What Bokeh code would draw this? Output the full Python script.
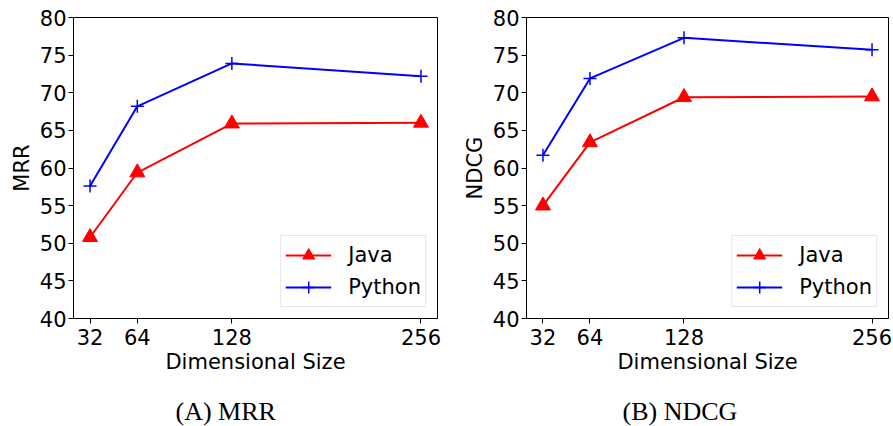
from bokeh.plotting import figure
from bokeh.layouts import row, column
from bokeh.models import (FixedTicker, Range1d, Legend, LegendItem, Label)
from bokeh.embed import file_html
from bokeh.resources import INLINE

dims = [32, 64, 128, 256]
mrr_java = [50.8, 59.4, 65.9, 66.0]
mrr_python = [57.6, 68.2, 73.9, 72.2]
ndcg_java = [55.0, 63.4, 69.4, 69.5]
ndcg_python = [61.7, 71.9, 77.3, 75.7]
y_ticks = [40, 45, 50, 55, 60, 65, 70, 75, 80]
series_names = ["Java", "Python"]
y_labels = ["MRR", "NDCG"]
captions = ["(A) MRR", "(B) NDCG"]

SANS = "DejaVu Sans"
SERIF = "Liberation Serif"


def make_panel(java, python, ylabel, width, bl, br):
    p = figure(width=width, height=394, output_backend="svg", toolbar_location=None,
               x_range=Range1d(20.8, 267.2), y_range=Range1d(40, 80),
               min_border_left=bl, min_border_right=br, min_border_top=17,
               min_border_bottom=76)
    p.background_fill_color = "white"
    p.border_fill_color = "white"
    p.outline_line_color = "black"
    p.outline_line_width = 1
    p.xgrid.visible = False
    p.ygrid.visible = False

    for ax in (p.xaxis[0], p.yaxis[0]):
        ax.major_tick_in = 0
        ax.major_tick_out = 5
        ax.minor_tick_in = 0
        ax.minor_tick_out = 0
        ax.axis_line_color = "black"
        ax.major_tick_line_color = "black"
        ax.major_label_text_font = SANS
        ax.major_label_text_font_size = "21px"
        ax.major_label_text_color = "black"
        ax.axis_label_text_font = SANS
        ax.axis_label_text_font_size = "21px"
        ax.axis_label_text_font_style = "normal"
        ax.axis_label_text_color = "black"
    p.xaxis.ticker = FixedTicker(ticks=dims)
    p.yaxis.ticker = FixedTicker(ticks=y_ticks)
    p.xaxis.axis_label = "Dimensional Size"
    p.yaxis.axis_label = ylabel
    p.xaxis.major_label_standoff = 5
    p.xaxis.axis_label_standoff = 2
    p.yaxis.major_label_standoff = 2
    p.yaxis.axis_label_standoff = 3

    l1 = p.line(dims, java, line_color="#ff0000", line_width=2)
    s1 = p.scatter(dims, java, marker="triangle", size=15, fill_color="#ff0000",
                   line_color="#ff0000")
    l2 = p.line(dims, python, line_color="#0000ff", line_width=2)
    s2 = p.scatter(dims, python, marker="cross", size=13, line_color="#0000ff",
                   line_width=1.5)

    legend = Legend(items=[LegendItem(label=series_names[0], renderers=[l1, s1]),
                           LegendItem(label=series_names[1], renderers=[l2, s2])],
                    location="bottom_right")
    legend.label_text_font = SANS
    legend.label_text_font_size = "21px"
    legend.label_text_color = "black"
    legend.glyph_width = 46
    legend.glyph_height = 30
    legend.label_height = 20
    legend.label_standoff = 17
    legend.spacing = 2
    legend.padding = 4
    legend.margin = 11
    legend.border_line_color = "#cccccc"
    legend.border_line_width = 1
    legend.background_fill_alpha = 0.8
    p.add_layout(legend)
    return p


p1 = make_panel(mrr_java, mrr_python, y_labels[0], 446, 73, 9)
p2 = make_panel(ndcg_java, ndcg_python, y_labels[1], 446, 80, 4)

cap = figure(width=892, height=32, output_backend="svg", toolbar_location=None,
             x_range=Range1d(0, 892), y_range=Range1d(0, 32),
             x_axis_location=None, y_axis_location=None,
             min_border_left=0, min_border_right=0, min_border_top=0,
             min_border_bottom=0)
cap.outline_line_color = None
cap.xgrid.visible = False
cap.ygrid.visible = False
cap.background_fill_color = "white"
cap.border_fill_color = "white"
for cx, text in zip([175, 622], captions):
    cap.add_layout(Label(x=cx, y=15, text=text, text_font=SERIF,
                         text_font_size="26px", text_align="left",
                         text_baseline="middle", text_color="black"))

layout = column(row(p1, p2), cap)
open("out.html", "w").write(file_html(layout, INLINE))
